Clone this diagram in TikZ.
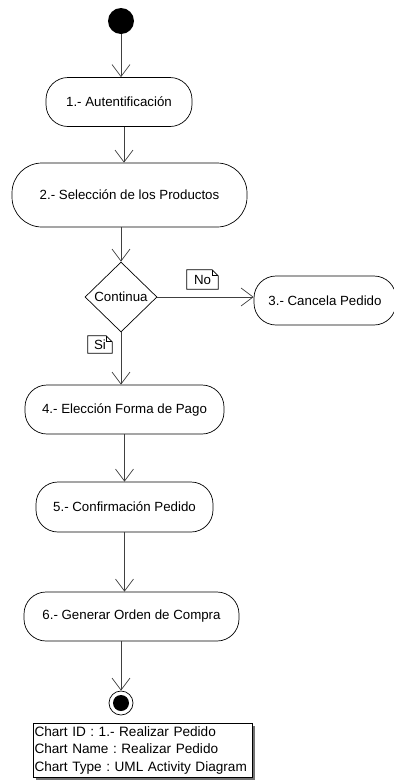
\documentclass[tikz,border=0pt]{standalone}
\usepackage{fontspec}
\setmainfont{Liberation Sans}
\usetikzlibrary{arrows.meta,shapes.geometric,shadows}
\frenchspacing
\begin{document}
\begin{tikzpicture}[x=1pt,y=-1pt,
  lbl/.style={font=\fontsize{13.3}{15}\selectfont},
  act/.style={lbl, draw=black, line width=0.7pt, rounded corners=#1, inner sep=0pt, fill=white},
  act/.default=22pt,
  flow/.style={draw=black!75, line width=0.7pt, -{Straight Barb[length=12pt,width=18pt,line width=0.7pt]}},
  decision/.style={lbl, draw=black, line width=0.7pt, diamond, inner sep=0pt, minimum width=72pt, minimum height=70pt},
  guard/.style={lbl, inner sep=0pt, minimum height=19pt},
  fold/.style={draw=black, line width=0.7pt},
  info/.style={draw=black, line width=0.7pt, fill=white, align=left, inner xsep=1.5pt, inner ysep=2pt,
    font=\fontsize{13.6}{17.5}\selectfont, minimum height=54pt, text width=216pt,
    drop shadow={shadow xshift=3pt, shadow yshift=-3pt, fill=black!55, opacity=1}}
]
\useasboundingbox (0,0) rectangle (394,780);

% initial and final states
\node[circle, fill=black, minimum size=26pt, inner sep=0pt] (start) at (121,21) {};
\node[circle, draw=black, line width=0.7pt, fill=white, minimum size=24pt, inner sep=0pt] (final) at (121,703) {};
\node[circle, fill=black, minimum size=16pt, inner sep=0pt] (finaldot) at (final) {};

% activities
\node[act, minimum width=146pt, minimum height=49pt] (a1) at (119,102) {1.- Autentificación};
\node[act=30pt, minimum width=235pt, minimum height=64pt] (a2) at (129.5,195) {2.- Selección de los Productos};
\node[decision] (dec) at (121,297) {Continua};
\node[act, minimum width=142pt, minimum height=49pt] (a3) at (325,300.5) {3.- Cancela Pedido};
\node[act, minimum width=199pt, minimum height=49pt] (a4) at (124.5,409.5) {4.- Elección Forma de Pago};
\node[act, minimum width=177pt, minimum height=50pt] (a5) at (124.5,507) {5.- Confirmación Pedido};
\node[act, minimum width=215pt, minimum height=49pt] (a6) at (131.5,616.5) {6.- Generar Orden de Compra};

% transitions
\draw[flow] (start) -- (start |- a1.north);
\draw[flow] ([xshift=5pt]a1.south) -- ([xshift=5pt]a1.south |- a2.north);
\draw[flow] (a2.south -| dec) -- (dec.north);
\draw[flow] (dec.east) -- (dec.east -| a3.west);
\draw[flow] (dec.south) -- (dec.south |- a4.north);
\draw[flow] (a4.south) -- (a4.south |- a5.north);
\draw[flow] (a5.south) -- (a5.south |- a6.north);
\draw[flow] (a6.south -| final) -- (final.north);

% guard notes
\node[guard, minimum width=31pt] (no) at (202.5,279.5) {No};
\draw[fold] (no.south west) -- (no.north west) -- ([xshift=-6pt]no.north east)
  -- ([yshift=-6pt]no.north east) -- (no.south east) -- cycle;
\draw[fold] ([xshift=-6pt]no.north east) -- ([xshift=-6pt,yshift=-6pt]no.north east) -- ([yshift=-6pt]no.north east);

\node[guard, minimum width=24pt, minimum height=17pt] (si) at (100,344.5) {Si};
\draw[fold] (si.south west) -- (si.north west) -- ([xshift=-6pt]si.north east)
  -- ([yshift=-6pt]si.north east) -- (si.south east) -- cycle;
\draw[fold] ([xshift=-6pt]si.north east) -- ([xshift=-6pt,yshift=-6pt]si.north east) -- ([yshift=-6pt]si.north east);

% chart information
\node[info] (chart) at (142.5,750) {\hyphenpenalty=10000 Chart ID : 1.- Realizar Pedido\\Chart Name : Realizar Pedido\\Chart Type : UML Activity Diagram};
\end{tikzpicture}
\end{document}
